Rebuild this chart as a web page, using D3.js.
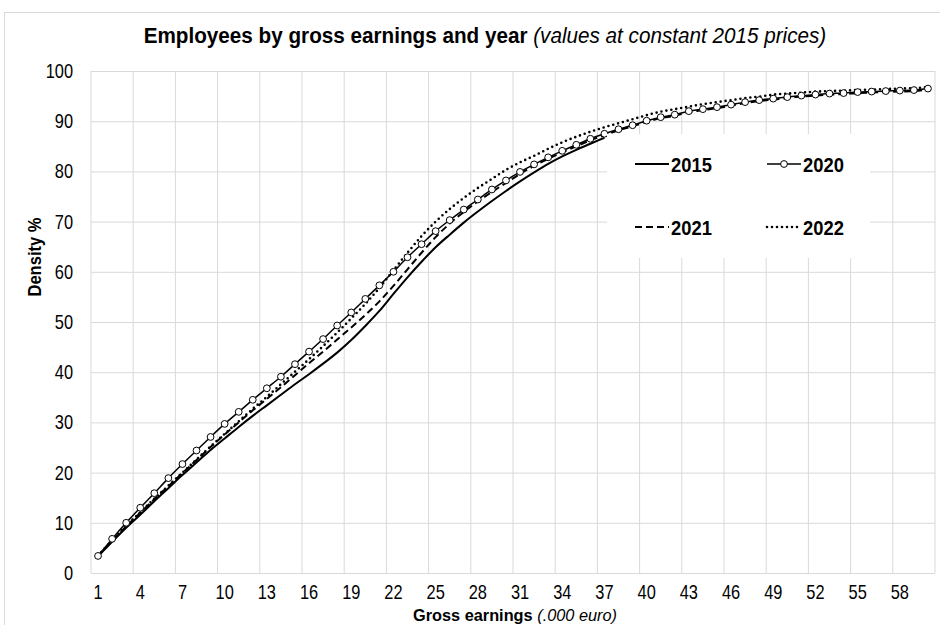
<!DOCTYPE html>
<html>
<head>
<meta charset="utf-8">
<script src="https://cdn.jsdelivr.net/npm/d3@7"></script>
<style>
  body { margin: 0; background: #fff; }
  svg { font-family: 'Liberation Sans', Arial, sans-serif; }
</style>
</head>
<body>
<div id="chart"></div>
<script>
// Gross earnings categories (thousand euro)
var earnings = [1, 2, 3, 4, 5, 6, 7, 8, 9, 10, 11, 12, 13, 14, 15, 16, 17, 18, 19, 20,
  21, 22, 23, 24, 25, 26, 27, 28, 29, 30, 31, 32, 33, 34, 35, 36, 37, 38, 39, 40,
  41, 42, 43, 44, 45, 46, 47, 48, 49, 50, 51, 52, 53, 54, 55, 56, 57, 58, 59, 60];

var xTickLabels = [1, 4, 7, 10, 13, 16, 19, 22, 25, 28, 31, 34, 37, 40, 43, 46, 49, 52, 55, 58];
var yTicks = [0, 10, 20, 30, 40, 50, 60, 70, 80, 90, 100];

// cumulative density %
var y2015 = [3.4, 6.2, 9.0, 11.6, 14.3, 16.9, 19.5, 22.0, 24.5, 26.8,
  29.1, 31.3, 33.4, 35.5, 37.6, 39.6, 41.7, 43.9, 46.4, 49.2,
  52.2, 55.6, 58.9, 62.0, 64.9, 67.4, 69.8, 72.0, 74.1, 76.1,
  78.0, 79.8, 81.5, 83.0, 84.3, 85.5, 86.7];

var y2020 = [3.4, 6.8, 10.0, 13.0, 15.9, 18.9, 21.7, 24.4, 27.1, 29.7,
  32.1, 34.5, 36.8, 39.1, 41.6, 44.1, 46.6, 49.3, 51.9, 54.6,
  57.3, 60.0, 62.9, 65.5, 68.1, 70.3, 72.4, 74.4, 76.4, 78.2,
  79.9, 81.4, 82.8, 84.1, 85.3, 86.5, 87.5, 88.4, 89.2, 90.1,
  90.8, 91.3, 92.0, 92.4, 92.8, 93.3, 93.8, 94.2, 94.5, 94.8,
  95.1, 95.3, 95.5, 95.6, 95.8, 95.9, 96.0, 96.1, 96.2, 96.5];

var y2021 = [3.4, 6.4, 9.3, 12.0, 14.7, 17.3, 19.9, 22.5, 25.1, 27.6,
  30.0, 32.4, 34.7, 37.0, 39.4, 41.8, 44.1, 46.5, 48.9, 51.4,
  54.1, 57.2, 60.5, 63.8, 66.9, 69.6, 71.9, 74.0, 75.9, 77.7,
  79.5, 81.1, 82.5, 83.8, 85.0, 86.2, 87.2, 88.2, 89.0, 89.9,
  90.6, 91.1, 91.8, 92.2, 92.6, 93.1, 93.6, 94.0, 94.3, 94.6,
  94.9, 95.1, 95.3, 95.4, 95.6, 95.7, 95.8, 95.9, 96.0, 96.3];

var y2022 = [3.4, 6.5, 9.4, 12.1, 14.8, 17.4, 20.0, 22.6, 25.2, 27.7,
  30.2, 32.7, 35.1, 37.6, 40.1, 42.6, 45.2, 47.9, 50.7, 53.6,
  56.8, 60.3, 63.8, 67.1, 70.0, 72.5, 74.7, 76.7, 78.5, 80.3,
  81.8, 83.1, 84.5, 85.8, 86.9, 87.9, 88.8, 89.6, 90.4, 91.2,
  91.9, 92.4, 92.9, 93.4, 93.8, 94.2, 94.6, 94.9, 95.3, 95.5,
  95.7, 95.9, 96.0, 96.1, 96.2, 96.3, 96.4, 96.5, 96.6, 96.8];

var series = [
  {name: '2015', values: y2015, dash: null, width: 2, markers: false},
  {name: '2021', values: y2021, dash: '7,4', width: 2, markers: false},
  {name: '2022', values: y2022, dash: '0,5', width: 2.6, markers: false, round: true},
  {name: '2020', values: y2020, dash: null, width: 1.5, markers: true}
];

var width = 940,
  height = 625,
  margin = {top: 71, right: 5, bottom: 52, left: 91},
  grid_color = '#d9d9d9';

// squeeze text horizontally to mimic a narrow face
function narrow(sel, k) {
  sel.each(function () {
    var t = d3.select(this);
    var xv = +t.attr('x') || 0;
    t.attr('x', xv / k)
      .attr('transform', (t.attr('transform') || '') + ' scale(' + k + ',1)');
  });
}

var svg = d3.select('#chart').append('svg')
  .attr('width', width)
  .attr('height', height);

// chart frame
svg.append('rect')
  .attr('x', 4.5).attr('y', 12.5)
  .attr('width', 960).attr('height', 640)
  .style('fill', 'none')
  .style('stroke', grid_color);

var x = d3.scaleBand()
  .domain(earnings)
  .range([margin.left, width - margin.right]);

var y = d3.scaleLinear()
  .domain([0, 100])
  .range([height - margin.bottom, margin.top]);

// horizontal grid + y labels
var yAxis = d3.axisLeft(y)
  .tickValues(yTicks)
  .tickSize(-(width - margin.left - margin.right))
  .tickPadding(18);

svg.append('g')
  .attr('transform', 'translate(' + margin.left + ',0)')
  .call(yAxis)
  .call(g => g.select('.domain').remove())
  .call(g => g.selectAll('.tick line').attr('stroke', grid_color))
  .call(g => g.selectAll('.tick text')
    .style('font-size', '20px').style('fill', '#000')
    .call(narrow, 0.82));

// vertical grid every 3 categories + x labels
svg.append('g')
  .selectAll('line')
  .data(xTickLabels.concat(['end']))
  .join('line')
  .attr('x1', d => d === 'end' ? x.range()[1] : x(d))
  .attr('x2', d => d === 'end' ? x.range()[1] : x(d))
  .attr('y1', y(0))
  .attr('y2', y(100))
  .attr('stroke', grid_color);

var xAxis = d3.axisBottom(x)
  .tickValues(xTickLabels)
  .tickSize(0)
  .tickPadding(12);

svg.append('g')
  .attr('transform', 'translate(0,' + y(0) + ')')
  .call(xAxis)
  .call(g => g.select('.domain').remove())
  .call(g => g.selectAll('.tick text')
    .style('font-size', '20px').style('fill', '#000')
    .call(narrow, 0.82));

// data lines
var line = d3.line()
  .x((d, i) => x(earnings[i]) + x.bandwidth() / 2)
  .y(d => y(d))
  .curve(d3.curveMonotoneX);

series.forEach(function (s) {
  svg.append('path')
    .datum(s.values)
    .attr('fill', 'none')
    .attr('stroke', '#000')
    .attr('stroke-width', s.width)
    .attr('stroke-dasharray', s.dash)
    .attr('stroke-linecap', s.round ? 'round' : 'butt')
    .attr('d', line);

  if (s.markers) {
    svg.append('g')
      .selectAll('circle')
      .data(s.values)
      .join('circle')
      .attr('cx', (d, i) => x(earnings[i]) + x.bandwidth() / 2)
      .attr('cy', d => y(d))
      .attr('r', 3.4)
      .attr('fill', '#fff')
      .attr('stroke', '#000')
      .attr('stroke-width', 1);
  }
});

// legend
var legend = svg.append('g');
legend.append('rect')
  .attr('x', 607).attr('y', 134)
  .attr('width', 263).attr('height', 124)
  .attr('fill', '#fff');

var legendItems = [
  {s: series[0], lx: 635, ly: 164},
  {s: series[3], lx: 767, ly: 164},
  {s: series[1], lx: 635, ly: 227},
  {s: series[2], lx: 767, ly: 227}
];

legendItems.forEach(function (it) {
  var g = legend.append('g');
  g.append('line')
    .attr('x1', it.lx).attr('x2', it.lx + 34)
    .attr('y1', it.ly).attr('y2', it.ly)
    .attr('stroke', '#000')
    .attr('stroke-width', it.s.width)
    .attr('stroke-dasharray', it.s.dash)
    .attr('stroke-linecap', it.s.round ? 'round' : 'butt');
  if (it.s.markers) {
    g.append('circle')
      .attr('cx', it.lx + 17).attr('cy', it.ly)
      .attr('r', 3.4)
      .attr('fill', '#fff').attr('stroke', '#000');
  }
  g.append('text')
    .attr('x', it.lx + 36)
    .attr('y', it.ly + 8)
    .style('font-size', '20px')
    .style('font-weight', 'bold')
    .text(it.s.name)
    .call(narrow, 0.92);
});

// title
var title = svg.append('text')
  .attr('x', 485)
  .attr('y', 43)
  .attr('text-anchor', 'middle')
  .style('font-size', '22px');
title.append('tspan').style('font-weight', 'bold').text('Employees by gross earnings and year ');
title.append('tspan').style('font-style', 'italic').text('(values at constant 2015 prices)');
title.call(narrow, 0.94);

// axis titles
svg.append('text')
  .attr('transform', 'translate(41,257) rotate(-90) scale(0.92,1)')
  .attr('text-anchor', 'middle')
  .style('font-size', '18px')
  .style('font-weight', 'bold')
  .text('Density %');

var xTitle = svg.append('text')
  .attr('x', 515)
  .attr('y', 621)
  .attr('text-anchor', 'middle')
  .style('font-size', '16px');
xTitle.append('tspan').style('font-weight', 'bold').text('Gross earnings ');
xTitle.append('tspan').style('font-style', 'italic').text('(.000 euro)');
xTitle.call(narrow, 1.02);
</script>
</body>
</html>
